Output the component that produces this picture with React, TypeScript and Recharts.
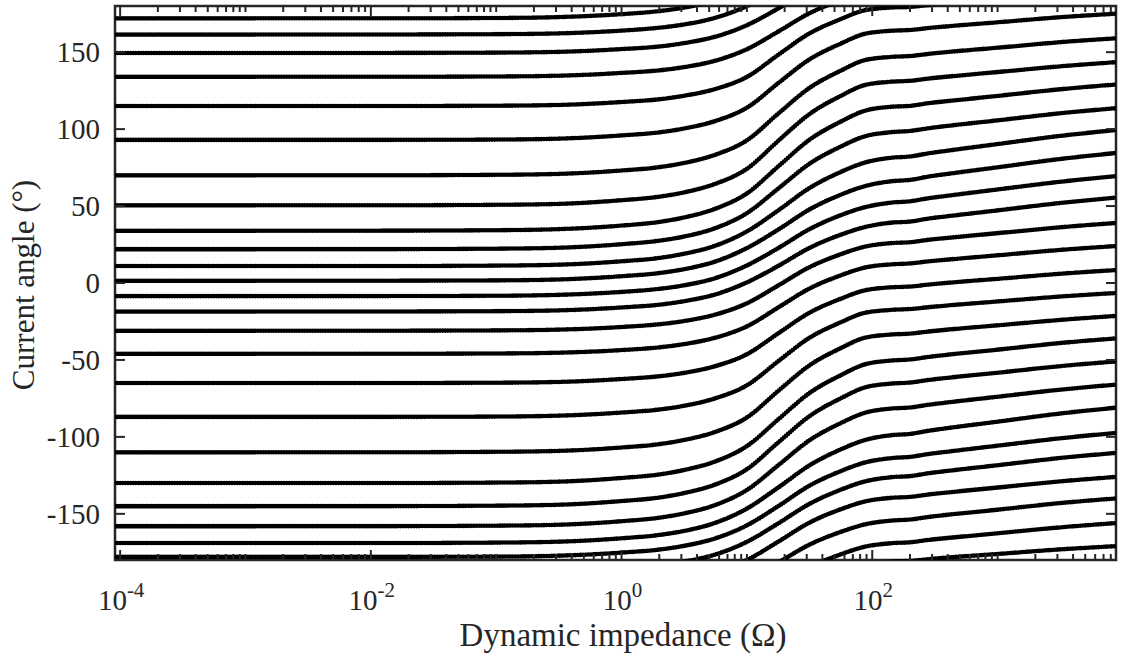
import React from 'react';
import { LineChart, Line, XAxis, YAxis, ReferenceArea, Customized } from 'recharts';

// impedance sample points (Ω), shared by every curve
const impedance = [
  9.1e-5, 1e-3, 1e-2, 0.1, 0.316, 1, 2, 3.16, 5.62, 10, 17.8, 31.6, 56.2, 87, 141, 200, 282, 398, 1000, 3160, 8800,
];

// current angle (°) of each curve at the impedance points above, unwrapped
const angleCurves: number[][] = [
  [172, 172, 172, 172.2, 172.8, 174.7, 176.7, 179, 183.6, 191.8, 203.8, 216.5, 225.7, 231, 233.8, 234.5, 236.4, 237.9, 241.6, 246.3, 249.6],
  [161.5, 161.5, 161.5, 161.7, 162.2, 164, 165.9, 168, 172.4, 180, 191.9, 204.3, 213, 218, 220.4, 221, 222.6, 223.9, 227.1, 231.1, 234],
  [149.5, 149.5, 149.5, 149.7, 150.2, 152, 153.7, 155.9, 160.1, 167.5, 178.4, 190, 198.3, 203.1, 205.6, 206.3, 208, 209.4, 212.7, 217, 220],
  [134, 134, 134, 134.2, 134.7, 136.5, 138.2, 140.3, 144.5, 151.9, 163.4, 175.3, 183.7, 188.6, 190.9, 191.5, 193.1, 194.3, 197.4, 201.2, 204],
  [115, 115, 115, 115.2, 115.7, 117.6, 119.4, 121.7, 126.1, 133.9, 148.3, 162.2, 171.5, 177.2, 179, 179.4, 180.6, 181.6, 183.9, 186.9, 189],
  [93, 93, 93, 93.2, 93.8, 95.9, 97.9, 100.4, 105.3, 113.9, 129.9, 145.3, 155.6, 161.9, 163.9, 164.4, 165.7, 166.8, 169.4, 172.7, 175],
  [70, 70, 70, 70.3, 70.9, 73.1, 75.3, 78, 83.4, 92.7, 110.1, 126.8, 138, 144.8, 146.9, 147.5, 148.9, 150.1, 152.9, 156.5, 159],
  [50.5, 50.5, 50.5, 50.8, 51.4, 53.8, 56.1, 58.9, 64.5, 74.2, 92.4, 109.8, 121.6, 128.6, 130.8, 131.4, 132.9, 134.1, 137.1, 140.8, 143.5],
  [34, 34, 34, 34.3, 35, 37.3, 39.7, 42.6, 48.3, 58.2, 75.8, 93.1, 104.9, 111.9, 114.5, 115.1, 116.9, 118.2, 121.6, 125.9, 129],
  [22, 22, 22, 22.3, 22.9, 25.2, 27.5, 30.2, 35.7, 45.4, 61.4, 77.5, 88.7, 95.3, 98, 98.8, 100.6, 102.1, 105.7, 110.3, 113.6],
  [11, 11, 11, 11.3, 11.9, 14.1, 16.3, 19, 24.3, 33.5, 47.2, 61.7, 72.2, 78.2, 81.4, 82.2, 84.3, 86, 90.3, 95.6, 99.4],
  [1.5, 1.5, 1.5, 1.7, 2.3, 4.4, 6.5, 9, 14, 22.7, 34.7, 47.8, 57.4, 62.9, 66.1, 67, 69.2, 70.9, 75.2, 80.6, 84.5],
  [-8.5, -8.5, -8.5, -8.3, -7.7, -5.8, -3.8, -1.5, 3.2, 11.4, 22.7, 35, 44.1, 49.2, 52.2, 53.1, 55.1, 56.7, 60.8, 65.8, 69.5],
  [-18.5, -18.5, -18.5, -18.3, -17.8, -15.9, -14.1, -11.8, -7.4, 0.4, 11.1, 22.8, 31.4, 36.3, 39.2, 39.9, 41.9, 43.4, 47.2, 52, 55.5],
  [-31, -31, -31, -30.8, -30.3, -28.6, -26.8, -24.7, -20.5, -13.2, -1.6, 10.3, 18.7, 23.6, 25.9, 26.5, 28.1, 29.3, 32.4, 36.2, 39],
  [-46, -46, -46, -45.8, -45.3, -43.6, -41.8, -39.7, -35.5, -28.2, -15.9, -3.6, 5, 10, 12.1, 12.7, 14.1, 15.2, 18, 21.5, 24],
  [-65, -65, -65, -64.8, -64.3, -62.4, -60.6, -58.4, -54, -46.3, -32.7, -19.3, -10.2, -4.8, -2.8, -2.3, -1, 0.1, 2.7, 6, 8.4],
  [-87, -87, -87, -86.8, -86.2, -84.2, -82.2, -79.8, -74.9, -66.5, -50.8, -35.6, -25.5, -19.4, -17.5, -16.9, -15.7, -14.6, -12, -8.8, -6.5],
  [-110, -110, -110, -109.7, -109.1, -106.9, -104.7, -102, -96.7, -87.4, -70.1, -53.5, -42.3, -35.6, -33.5, -32.9, -31.5, -30.3, -27.5, -24, -21.4],
  [-130, -130, -130, -129.7, -129.1, -126.7, -124.4, -121.5, -115.9, -106, -88.6, -71.5, -59.9, -52.9, -50.4, -49.7, -48, -46.6, -43.3, -39, -36],
  [-145, -145, -145, -144.7, -144.1, -141.7, -139.4, -136.5, -130.9, -121, -103.6, -86.5, -74.9, -67.9, -65.4, -64.7, -63, -61.6, -58.3, -54, -51],
  [-158, -158, -158, -157.7, -157.1, -154.8, -152.5, -149.7, -144.2, -134.5, -118.4, -102.2, -91, -84.4, -81.6, -80.9, -79.1, -77.6, -73.9, -69.3, -66],
  [-169, -169, -169, -168.7, -168.1, -165.9, -163.7, -161.1, -155.8, -146.6, -132.9, -118.5, -108.1, -102.1, -98.9, -98.1, -96, -94.3, -90.1, -84.8, -81],
  [-178, -178, -178, -177.8, -177.2, -175.2, -173.2, -170.8, -165.9, -157.5, -145, -131.7, -122.2, -116.7, -113.8, -113, -111.1, -109.6, -105.7, -100.9, -97.4],
];

// curves that run past +180° and come back in from -180°
const wrappedCurves = [0, 1, 2, 3, 4];

const yTicks = [-150, -100, -50, 0, 50, 100, 150];
const xLabelExponents = [-4, -2, 0, 2];

const X_MIN = 9.1e-5;
const X_MAX = 8800;
const W = 1126;
const H = 657;
const M = { top: 6, right: 10, bottom: 96, left: 114 };
const PLOT_W = W - M.left - 1 - M.right;
const PLOT_H = H - M.top - M.bottom - 1;
const AXIS = '#262626';
const FONT = '"Liberation Serif", "Times New Roman", serif';

const rows = impedance.map((z, i) => {
  const row: Record<string, number> = { z };
  angleCurves.forEach((c, j) => {
    row['c' + j] = c[i];
  });
  return row;
});

// log ticks: 1..9 x 10^k inside the axis range
const xTicks: number[] = [];
for (let k = -5; k <= 4; k++) {
  for (let m = 1; m <= 9; m++) {
    const v = m * Math.pow(10, k);
    if (v >= X_MIN && v <= X_MAX) xTicks.push(v);
  }
}

const XTick = (props: any) => {
  const { x, y, payload } = props;
  const lg = Math.log10(payload.value);
  const exp = Math.round(lg);
  const isDecade = Math.abs(lg - exp) < 1e-6;
  const labelled = isDecade && xLabelExponents.includes(exp);
  const len = labelled ? 10 : 6;
  return (
    <g>
      <line x1={x} x2={x} y1={y} y2={y - len} stroke={AXIS} strokeWidth={2} />
      <line x1={x} x2={x} y1={y - PLOT_H} y2={y - PLOT_H + len} stroke={AXIS} strokeWidth={2} />
      {labelled && (
        <text x={x + 1} y={y + 50} textAnchor="middle" fill={AXIS} fontFamily={FONT} fontSize={29}>
          <tspan>10</tspan>
          <tspan dy={-13} fontSize={21}>{exp}</tspan>
        </text>
      )}
    </g>
  );
};

const YTick = (props: any) => {
  const { x, y, payload } = props;
  return (
    <g>
      <line x1={x} x2={x + 10} y1={y} y2={y} stroke={AXIS} strokeWidth={2} />
      <line x1={x + PLOT_W} x2={x + PLOT_W - 10} y1={y} y2={y} stroke={AXIS} strokeWidth={2} />
      <text x={x - 15} y={y + 10} textAnchor="end" fill={AXIS} fontFamily={FONT} fontSize={29}>
        {payload.value}
      </text>
    </g>
  );
};

const AxisTitles = () => (
  <g fill={AXIS} fontFamily={FONT}>
    <text x={623} y={646} textAnchor="middle" fontSize={33}>
      Dynamic impedance (Ω)
    </text>
    <text transform={`translate(34, ${M.top + PLOT_H / 2 + 2}) rotate(-90)`} textAnchor="middle" fontSize={31}>
      Current angle (°)
    </text>
  </g>
);

const lineStyle = {
  type: 'monotone' as const,
  stroke: '#000',
  strokeWidth: 4.6,
  strokeDasharray: '0 2.6',
  strokeLinecap: 'round' as const,
  dot: false,
  activeDot: false,
  isAnimationActive: false,
};

export default function App() {
  return (
    <div style={{ position: 'absolute', left: 0, top: 0, width: W, height: H, background: '#fff' }}>
      <LineChart width={W} height={H} data={rows} margin={M}>
        {angleCurves.map((_, j) => (
          <Line key={'c' + j} dataKey={'c' + j} {...lineStyle} />
        ))}
        {wrappedCurves.map((j) => (
          <Line key={'w' + j} dataKey={(r: Record<string, number>) => r['c' + j] - 360} {...lineStyle} />
        ))}
        <ReferenceArea
          x1={X_MIN}
          x2={X_MAX}
          y1={-180}
          y2={180}
          ifOverflow="visible"
          fill="none"
          stroke={AXIS}
          strokeWidth={2.5}
        />
        <XAxis
          dataKey="z"
          type="number"
          scale="log"
          domain={[X_MIN, X_MAX]}
          allowDataOverflow
          ticks={xTicks}
          interval={0}
          height={1}
          tickSize={0}
          tickMargin={0}
          axisLine={false}
          tickLine={false}
          tick={<XTick />}
        />
        <YAxis
          type="number"
          domain={[-180, 180]}
          allowDataOverflow
          ticks={yTicks}
          interval={0}
          width={1}
          tickSize={0}
          tickMargin={0}
          axisLine={false}
          tickLine={false}
          tick={<YTick />}
        />
        <Customized component={AxisTitles} />
      </LineChart>
    </div>
  );
}
